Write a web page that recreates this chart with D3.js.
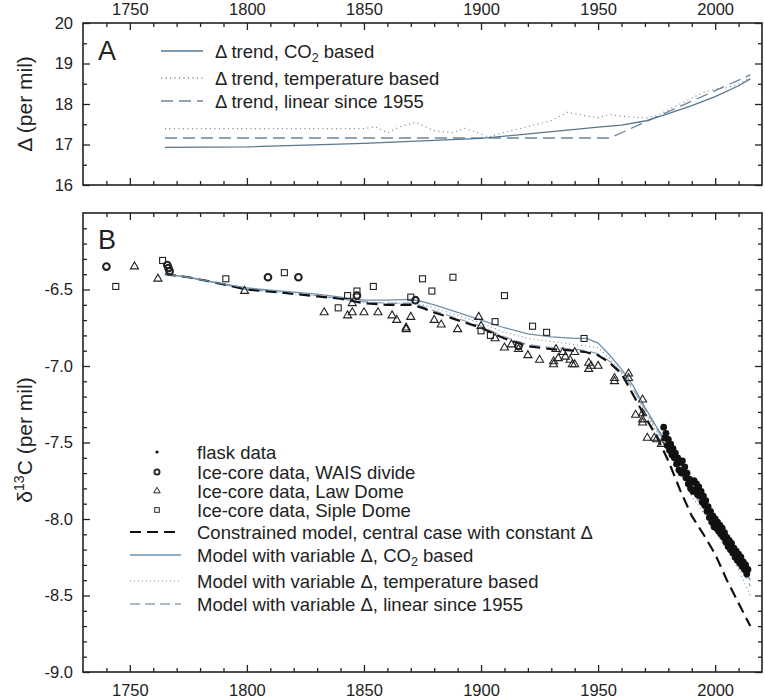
<!DOCTYPE html>
<html><head><meta charset="utf-8">
<script src="https://cdn.jsdelivr.net/npm/d3@7"></script>
<style>
body{margin:0;background:#fff;}
text{font-family:"Liberation Sans",Arial,sans-serif;fill:#222;}
</style></head><body>
<svg id="c" width="765" height="699"></svg>
<script>
// ---------- Panel A data (Delta trends) ----------
const aCO2Years = [1765,1800,1850,1900,1950,1960,1970,1980,1990,2000,2010,2015];
const aCO2Vals  = [16.93,16.94,17.03,17.15,17.43,17.48,17.58,17.76,17.96,18.18,18.45,18.62];
const aTempYears = [1765,1850,1855,1860,1865,1872,1880,1888,1893,1900,1903,1910,1920,1930,1937,1945,1950,1955,1960,1970,1975,1985,1995,2000,2005,2010,2015];
const aTempVals  = [17.39,17.39,17.44,17.29,17.43,17.55,17.34,17.29,17.40,17.26,17.18,17.30,17.44,17.59,17.80,17.70,17.66,17.74,17.70,17.65,17.71,18.00,18.29,18.37,18.40,18.49,18.66];
const aLinYears = [1765,1955,2015];
const aLinVals  = [17.16,17.16,18.72];

// ---------- Panel B model curves ----------
const mYears = [1765,1775,1785,1800,1815,1830,1840,1850,1860,1870,1875,1880,1890,1900,1910,1920,1930,1940,1945,1950,1955,1960,1965,1970,1975,1980,1985,1990,1995,2000,2005,2010,2015];
const constrainedVals = [-6.40,-6.42,-6.45,-6.50,-6.52,-6.545,-6.56,-6.59,-6.60,-6.60,-6.62,-6.65,-6.70,-6.75,-6.82,-6.87,-6.89,-6.90,-6.91,-6.93,-6.98,-7.05,-7.19,-7.33,-7.46,-7.62,-7.81,-7.98,-8.10,-8.23,-8.40,-8.55,-8.70];
const co2Vals = [-6.40,-6.42,-6.45,-6.49,-6.51,-6.53,-6.55,-6.57,-6.57,-6.565,-6.58,-6.60,-6.65,-6.70,-6.75,-6.79,-6.81,-6.82,-6.82,-6.85,-6.93,-7.02,-7.13,-7.27,-7.40,-7.52,-7.66,-7.80,-7.91,-8.02,-8.13,-8.25,-8.40];
const tempVals = [-6.40,-6.42,-6.45,-6.49,-6.52,-6.54,-6.56,-6.58,-6.59,-6.59,-6.60,-6.62,-6.67,-6.72,-6.78,-6.82,-6.84,-6.86,-6.87,-6.88,-6.95,-7.05,-7.16,-7.30,-7.43,-7.56,-7.70,-7.85,-7.96,-8.08,-8.20,-8.33,-8.50];
const linVals = [-6.40,-6.42,-6.45,-6.50,-6.52,-6.54,-6.56,-6.58,-6.59,-6.59,-6.61,-6.64,-6.69,-6.74,-6.81,-6.86,-6.88,-6.89,-6.90,-6.92,-6.97,-7.04,-7.15,-7.28,-7.41,-7.54,-7.68,-7.82,-7.93,-8.04,-8.15,-8.28,-8.44];

// ---------- Panel B observations ----------
const flaskYears = [1978.0,1978.5,1979.0,1979.5,1980.0,1980.5,1981.0,1981.5,1982.0,1982.5,1983.0,1983.5,1984.0,1984.5,1985.0,1985.5,1986.0,1986.5,1987.0,1987.5,1988.0,1988.5,1989.0,1989.5,1990.0,1990.5,1991.0,1991.5,1992.0,1992.5,1993.0,1993.5,1994.0,1994.5,1995.0,1995.5,1996.0,1996.5,1997.0,1997.5,1998.0,1998.5,1999.0,1999.5,2000.0,2000.5,2001.0,2001.5,2002.0,2002.5,2003.0,2003.5,2004.0,2004.5,2005.0,2005.5,2006.0,2006.5,2007.0,2007.5,2008.0,2008.5,2009.0,2009.5,2010.0,2010.5,2011.0,2011.5,2012.0,2012.5,2013.0,2013.5,2014.0];
const flaskVals = [-7.40,-7.47,-7.44,-7.52,-7.48,-7.55,-7.51,-7.58,-7.54,-7.60,-7.57,-7.64,-7.60,-7.68,-7.63,-7.70,-7.62,-7.69,-7.66,-7.73,-7.70,-7.77,-7.74,-7.80,-7.76,-7.82,-7.75,-7.81,-7.77,-7.84,-7.79,-7.85,-7.82,-7.89,-7.85,-7.91,-7.88,-7.95,-7.92,-7.99,-7.95,-8.02,-7.98,-8.05,-8.00,-8.06,-8.02,-8.08,-8.04,-8.10,-8.06,-8.12,-8.09,-8.15,-8.12,-8.18,-8.14,-8.20,-8.16,-8.22,-8.19,-8.25,-8.21,-8.27,-8.23,-8.29,-8.25,-8.31,-8.28,-8.33,-8.30,-8.36,-8.33];
const waisYears = [1740,1766,1766.5,1767,1809,1822,1847,1872,1916];
const waisVals  = [-6.35,-6.34,-6.36,-6.38,-6.42,-6.42,-6.54,-6.57,-6.87];
const lawYears = [1752,1762,1799,1833,1843,1845,1845,1850,1856,1862,1864,1868,1868,1870,1880,1883,1890,1899,1900,1906,1910,1913,1916,1920,1925,1931,1931,1932,1933,1935,1936,1938,1939,1940,1940,1946,1946,1947,1950,1957,1957,1963,1963,1966,1969,1969,1969,1969,1971,1974,1975,1977];
const lawVals  = [-6.35,-6.43,-6.51,-6.65,-6.67,-6.65,-6.59,-6.65,-6.65,-6.67,-6.70,-6.75,-6.76,-6.68,-6.70,-6.73,-6.76,-6.68,-6.74,-6.82,-6.88,-6.86,-6.89,-6.93,-6.96,-6.99,-6.97,-6.89,-6.95,-6.91,-6.94,-6.96,-6.99,-6.99,-6.91,-6.98,-7.02,-7.00,-7.00,-7.08,-7.10,-7.05,-7.08,-7.32,-7.31,-7.35,-7.37,-7.22,-7.47,-7.47,-7.48,-7.51];
const sipleYears = [1744,1764,1791,1816,1839,1843,1847,1854,1870,1875,1879,1888,1900,1904,1906,1910,1922,1928,1944];
const sipleVals  = [-6.48,-6.31,-6.43,-6.39,-6.62,-6.54,-6.51,-6.48,-6.55,-6.43,-6.51,-6.42,-6.77,-6.80,-6.71,-6.54,-6.74,-6.78,-6.82];

// ---------- Ticks ----------
const xMajor = [1750,1800,1850,1900,1950,2000];
const xMinor = [1740,1760,1770,1780,1790,1810,1820,1830,1840,1860,1870,1880,1890,1910,1920,1930,1940,1960,1970,1980,1990,2010];
const aYMajor = [16,17,18,19,20];
const aYMinor = [16.5,17.5,18.5,19.5];
const bYMajor = [-9.0,-8.5,-8.0,-7.5,-7.0,-6.5];

const svg = d3.select("#c");
const L = 83, R = 762;
const x = d3.scaleLinear().domain([1730,2020]).range([L,R]);
const yA = d3.scaleLinear().domain([16,20]).range([185,23]);
const yB = d3.scaleLinear().domain([-9,-6]).range([672,213]);
const TICKFS = 16.5, LEGFS = 18.5, TITLEFS = 21;

function drawFrame(y, yMaj, yMin, showTop, showBottom, fmt){
  const g = svg.append("g");
  const top = y.range()[1], bot = y.range()[0];
  const maj = 7, mn = 4;
  g.append("g").attr("transform",`translate(0,${bot})`)
     .call(d3.axisBottom(x).tickValues(xMajor).tickSize(-maj).tickPadding(showBottom?12:0).tickFormat(showBottom?d3.format("d"):""));
  g.append("g").attr("transform",`translate(0,${bot})`)
     .call(d3.axisBottom(x).tickValues(xMinor).tickSize(-mn).tickFormat(""));
  g.append("g").attr("transform",`translate(0,${top})`)
     .call(d3.axisTop(x).tickValues(xMajor).tickSize(-maj).tickPadding(showTop?8:0).tickFormat(showTop?d3.format("d"):""));
  g.append("g").attr("transform",`translate(0,${top})`)
     .call(d3.axisTop(x).tickValues(xMinor).tickSize(-mn).tickFormat(""));
  g.append("g").attr("transform",`translate(${L},0)`)
     .call(d3.axisLeft(y).tickValues(yMaj).tickSize(-maj).tickPadding(10).tickFormat(fmt));
  g.append("g").attr("transform",`translate(${L},0)`)
     .call(d3.axisLeft(y).tickValues(yMin).tickSize(-mn).tickFormat(""));
  g.append("g").attr("transform",`translate(${R},0)`)
     .call(d3.axisRight(y).tickValues(yMaj).tickSize(-maj).tickFormat(""));
  g.append("g").attr("transform",`translate(${R},0)`)
     .call(d3.axisRight(y).tickValues(yMin).tickSize(-mn).tickFormat(""));
  g.selectAll(".domain").remove();
  g.selectAll(".tick line").attr("stroke","#222").attr("stroke-width",1.3);
  g.selectAll(".tick text").attr("font-size",TICKFS).attr("fill","#222").attr("font-family","Liberation Sans, Arial, sans-serif");
  g.append("rect").attr("x",L).attr("y",top).attr("width",R-L).attr("height",bot-top)
    .attr("fill","none").attr("stroke","#222").attr("stroke-width",1.6);
  return g;
}

drawFrame(yA, aYMajor, aYMinor, true, false, d3.format("d"));
const bMinor = [];
for (let i=-89;i<=-61;i++){ if (i%5!==0) bMinor.push(i/10); }
drawFrame(yB, bYMajor, bMinor, false, true, d=>d.toFixed(1));

// ---------- Panel A lines ----------
const lineA = d3.line().x(d=>x(d[0])).y(d=>yA(d[1]));
const zip = (a,b)=>a.map((v,i)=>[v,b[i]]);
svg.append("path").attr("d",lineA(zip(aTempYears,aTempVals))).attr("fill","none")
  .attr("stroke","#6f8294").attr("stroke-width",1.2).attr("stroke-dasharray","1,3.5");
svg.append("path").attr("d",lineA(zip(aLinYears,aLinVals))).attr("fill","none")
  .attr("stroke","#6c849a").attr("stroke-width",1.3).attr("stroke-dasharray","12,6");
svg.append("path").attr("d",lineA(zip(aCO2Years,aCO2Vals))).attr("fill","none")
  .attr("stroke","#57778f").attr("stroke-width",1.3);

// Panel A labels + legend
svg.append("text").attr("x",98).attr("y",60).attr("font-size",27).text("A");
const legA = [
  {y:51, dash:null, col:"#57778f", label:"CO2"},
  {y:78, dash:"1,3.5", col:"#6f8294", label:"temperature based"},
  {y:101, dash:"12,6", col:"#6c849a", label:"linear since 1955"}
];
legA.forEach(d=>{
  svg.append("line").attr("x1",161).attr("x2",203).attr("y1",d.y).attr("y2",d.y)
    .attr("stroke",d.col).attr("stroke-width",1.3).attr("stroke-dasharray",d.dash);
  const t = svg.append("text").attr("x",215).attr("y",d.y+6.5).attr("font-size",LEGFS);
  if (d.label==="CO2"){
    t.text("\u0394 trend, CO");
    t.append("tspan").attr("font-size",12.5).attr("dy",4.5).text("2");
    t.append("tspan").attr("dy",-4.5).text(" based");
  } else t.text("\u0394 trend, "+d.label);
});
svg.append("text").attr("transform","translate(32,104) rotate(-90)").attr("text-anchor","middle")
  .attr("font-size",TITLEFS).text("\u0394 (per mil)");

// ---------- Panel B ----------
const lineB = d3.line().x(d=>x(d[0])).y(d=>yB(d[1]));
svg.append("path").attr("d",lineB(zip(mYears,tempVals))).attr("fill","none")
  .attr("stroke","#7d8d9c").attr("stroke-width",1.1).attr("stroke-dasharray","1,3");
svg.append("path").attr("d",lineB(zip(mYears,linVals))).attr("fill","none")
  .attr("stroke","#8ea4b8").attr("stroke-width",1.3).attr("stroke-dasharray","10,5");
svg.append("path").attr("d",lineB(zip(mYears,constrainedVals))).attr("fill","none")
  .attr("stroke","#111").attr("stroke-width",2.2).attr("stroke-dasharray","11,6");
svg.append("path").attr("d",lineB(zip(mYears,co2Vals))).attr("fill","none")
  .attr("stroke","#6f90aa").attr("stroke-width",1.3);

// markers
const tri = d3.symbol().type(d3.symbolTriangle).size(28);
svg.append("g").selectAll("path").data(zip(lawYears,lawVals)).join("path")
  .attr("d",tri).attr("transform",d=>`translate(${x(d[0])},${yB(d[1])})`)
  .attr("fill","none").attr("stroke","#222").attr("stroke-width",1.1);
svg.append("g").selectAll("rect").data(zip(sipleYears,sipleVals)).join("rect")
  .attr("x",d=>x(d[0])-3).attr("y",d=>yB(d[1])-3).attr("width",6).attr("height",6)
  .attr("fill","none").attr("stroke","#222").attr("stroke-width",1.1);
svg.append("g").selectAll("circle").data(zip(waisYears,waisVals)).join("circle")
  .attr("cx",d=>x(d[0])).attr("cy",d=>yB(d[1])).attr("r",3.3)
  .attr("fill","none").attr("stroke","#222").attr("stroke-width",2.1);
svg.append("g").selectAll("circle").data(zip(flaskYears,flaskVals)).join("circle")
  .attr("cx",d=>x(d[0])).attr("cy",d=>yB(d[1])).attr("r",3.4)
  .attr("fill","#111");

svg.append("text").attr("x",98).attr("y",249).attr("font-size",27).text("B");

// Legend B
const lx = 157, tx = 197;
const rows = [452,472,491,510,532,555,581,604];
svg.append("circle").attr("cx",lx).attr("cy",rows[0]).attr("r",1.6).attr("fill","#111");
svg.append("circle").attr("cx",lx).attr("cy",rows[1]).attr("r",2.6).attr("fill","none").attr("stroke","#222").attr("stroke-width",1.8);
svg.append("path").attr("d",d3.symbol().type(d3.symbolTriangle).size(18)).attr("transform",`translate(${lx},${rows[2]})`).attr("fill","none").attr("stroke","#222").attr("stroke-width",1);
svg.append("rect").attr("x",lx-2.3).attr("y",rows[3]-2.3).attr("width",4.6).attr("height",4.6).attr("fill","none").attr("stroke","#222").attr("stroke-width",1);
const lineRows = [
  {r:4, col:"#111", w:2.2, dash:"11,6"},
  {r:5, col:"#6f90aa", w:1.3, dash:null},
  {r:6, col:"#7d8d9c", w:1.1, dash:"1,3"},
  {r:7, col:"#8ea4b8", w:1.5, dash:"10,5"}
];
lineRows.forEach(d=>{
  svg.append("line").attr("x1",130).attr("x2",181).attr("y1",rows[d.r]).attr("y2",rows[d.r])
    .attr("stroke",d.col).attr("stroke-width",d.w).attr("stroke-dasharray",d.dash);
});
const labelsB = ["flask data","Ice-core data, WAIS divide","Ice-core data, Law Dome","Ice-core data, Siple Dome",
  "Constrained model, central case with constant \u0394","CO2","Model with variable \u0394, temperature based","Model with variable \u0394, linear since 1955"];
labelsB.forEach((s,i)=>{
  const t = svg.append("text").attr("x",tx).attr("y",rows[i]+6.5).attr("font-size",LEGFS);
  if (s==="CO2"){
    t.text("Model with variable \u0394, CO");
    t.append("tspan").attr("font-size",12.5).attr("dy",4.5).text("2");
    t.append("tspan").attr("dy",-4.5).text(" based");
  } else t.text(s);
});
const yt = svg.append("text").attr("transform","translate(32,440) rotate(-90)").attr("text-anchor","middle").attr("font-size",TITLEFS);
yt.append("tspan").text("\u03b4");
yt.append("tspan").attr("font-size",14).attr("dy",-8).text("13");
yt.append("tspan").attr("dy",8).text("C (per mil)");
</script>
</body></html>
